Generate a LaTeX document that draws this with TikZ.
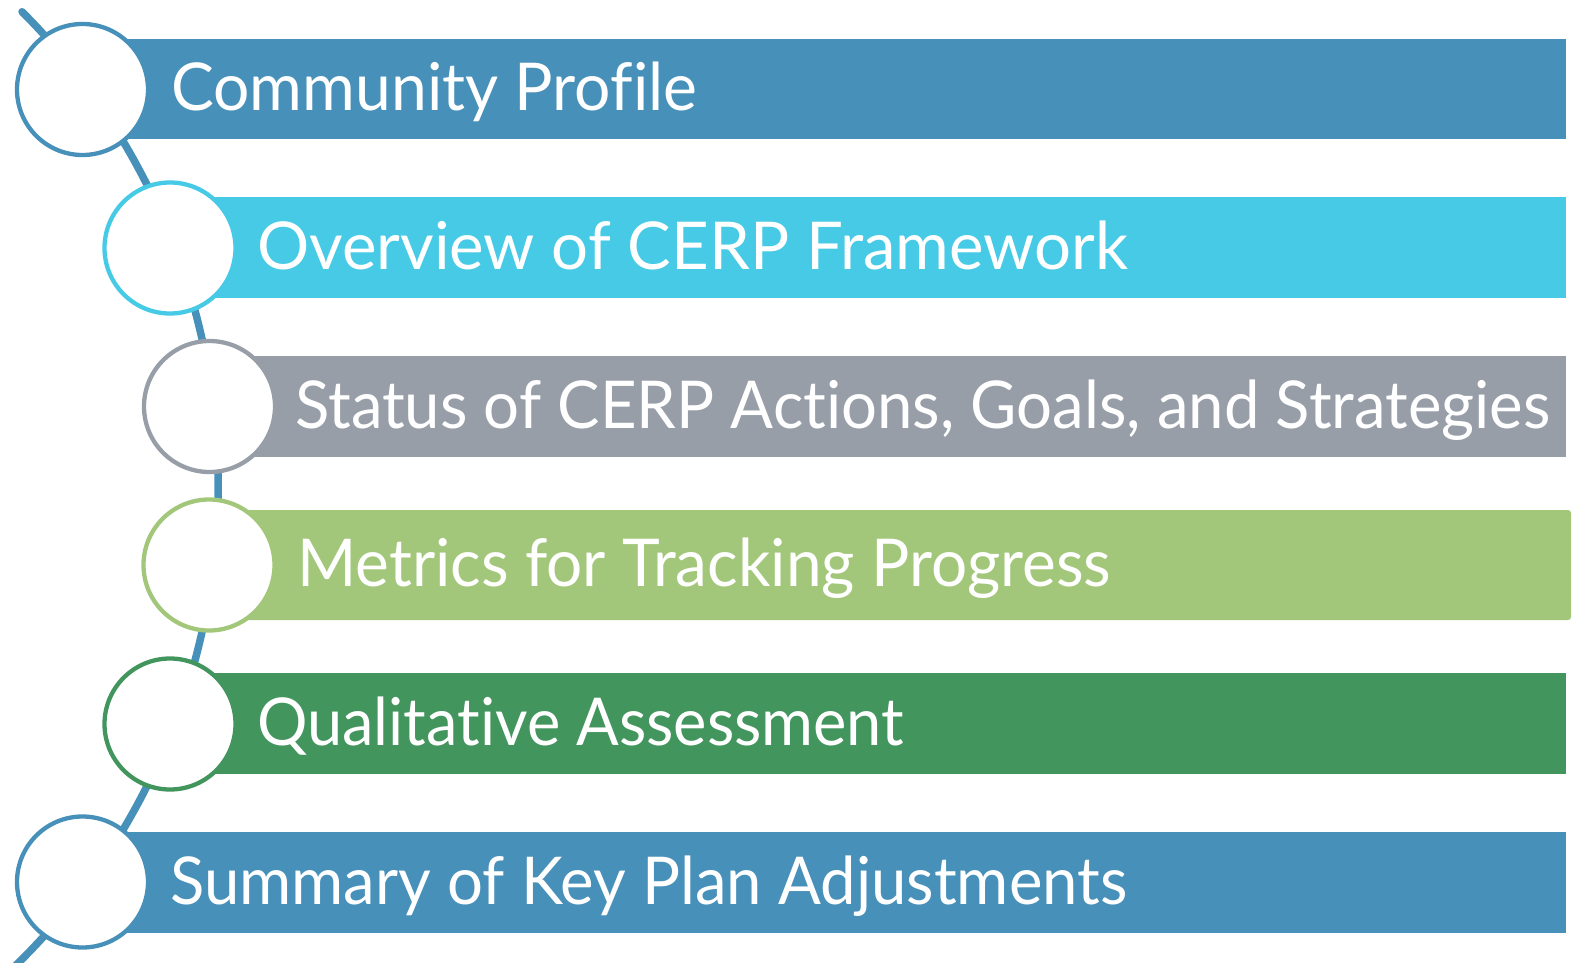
\documentclass[tikz,border=0pt]{standalone}
\usepackage{fontspec}
\setmainfont{Lato}[RawFeature={-liga;-clig;-dlig;-calt}]
\usepackage{graphicx}
\definecolor{cBlue}{HTML}{4790B9}
\definecolor{cCyan}{HTML}{46CAE6}
\definecolor{cGray}{HTML}{979EA8}
\definecolor{cLgreen}{HTML}{A3C77A}
\definecolor{cGreen}{HTML}{43955E}
\newcommand{\nl}{\kern0pt }
\tikzset{
  ring/.style={circle, fill=white, line width=4.3pt, minimum size=131pt, inner sep=0pt},
  itemtext/.style={anchor=base west, text=white, inner sep=0pt, font=\fontsize{66}{70}\selectfont},
  spine/.style={cBlue, line width=7.5pt, line cap=round},
}
\begin{document}
\begin{tikzpicture}[x=1pt,y=-1pt]
\useasboundingbox (0,0) rectangle (1580,963);
% spine arc
\coordinate (spineTop) at (22,11.7);
\draw[spine] (spineTop) arc[start angle=-45, end angle=46, radius=670];
% bars
\fill[cBlue]   (82.5,39)  rectangle (1566,139);
\fill[cCyan]   (170,197)  rectangle (1566,298);
\fill[cGray]   (209.5,356) rectangle (1566,457);
\fill[cLgreen, rounded corners=3pt] (209,510) rectangle (1571,620);
\fill[cGreen]  (170,673)  rectangle (1566,774);
\fill[cBlue]   (82.5,832) rectangle (1566,933);
% circles
\node[ring, draw=cBlue]   (c1) at (82.5,89.5) {};
\node[ring, draw=cCyan]   (c2) at (170,248) {};
\node[ring, draw=cGray]   (c3) at (209.5,406.5) {};
\node[ring, draw=cLgreen] (c4) at (209,565) {};
\node[ring, draw=cGreen]  (c5) at (170,724) {};
\node[ring, draw=cBlue]   (c6) at (82.5,882) {};
% texts
\node[itemtext] (t1) at (171,110.5) {\resizebox{526pt}{\height}{Community Prof\nl ile}};
\node[itemtext] (t2) at (257,269) {\resizebox{871pt}{\height}{Overview of CERP Framework}};
\node[itemtext] (t3) at (295,428) {\resizebox{1255pt}{\height}{Status of CERP Act\nl ions, Goals, and Strategies}};
\node[itemtext] (t4) at (297,586.5) {\resizebox{814pt}{\height}{Metrics for Tracking Progress}};
\node[itemtext] (t5) at (257,745) {\resizebox{647pt}{\height}{Qualitat\nl ive Assessment}};
\node[itemtext] (t6) at (170,904) {\resizebox{957pt}{\height}{Summary of Key Plan Adjustments}};
\end{tikzpicture}
\end{document}
